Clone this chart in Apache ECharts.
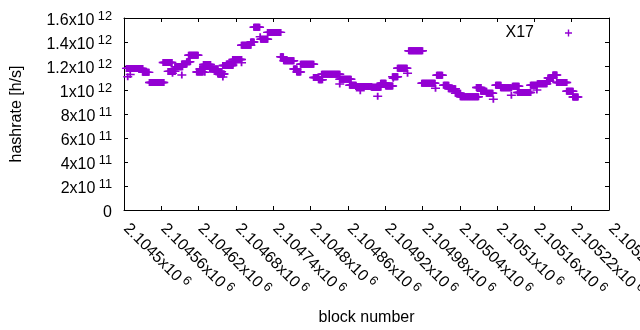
<!DOCTYPE html>
<html>
<head>
<meta charset="utf-8">
<script src="https://cdn.jsdelivr.net/npm/echarts@6/dist/echarts.min.js"></script>
<style>
  html, body { margin: 0; padding: 0; background: #fff; }
  #main { width: 640px; height: 330px; }
</style>
</head>
<body>
<div id="main"></div>
<script>
// runs of blocks that share one hashrate value: [first block, last block, hashrate]
const plateaus = [
  [2104504, 2104530, 1.18e12],
  [2104530, 2104540, 1.147e12],
  [2104541, 2104564, 1.0625e12],
  [2104563, 2104577, 1.229e12],
  [2104571, 2104582, 1.155e12],
  [2104582, 2104594, 1.194e12],
  [2104593, 2104601, 1.217e12],
  [2104601, 2104606, 1.236e12],
  [2104604, 2104619, 1.289e12],
  [2104617, 2104627, 1.15e12],
  [2104622, 2104627, 1.175e12],
  [2104628, 2104639, 1.2125e12],
  [2104638, 2104651, 1.175e12],
  [2104648, 2104657, 1.152e12],
  [2104651, 2104661, 1.133e12],
  [2104659, 2104675, 1.204e12],
  [2104665, 2104675, 1.217e12],
  [2104675, 2104689, 1.254e12],
  [2104689, 2104704, 1.3725e12],
  [2104704, 2104709, 1.4e12],
  [2104709, 2104718, 1.5225e12],
  [2104720, 2104731, 1.4225e12],
  [2104731, 2104752, 1.48e12],
  [2104752, 2104756, 1.2775e12],
  [2104757, 2104773, 1.244e12],
  [2104773, 2104778, 1.175e12],
  [2104778, 2104784, 1.15e12],
  [2104784, 2104805, 1.214e12],
  [2104805, 2104813, 1.104e12],
  [2104813, 2104819, 1.086e12],
  [2104818, 2104847, 1.131e12],
  [2104847, 2104865, 1.089e12],
  [2104863, 2104873, 1.039e12],
  [2104873, 2104898, 1.03e12],
  [2104898, 2104913, 1.0225e12],
  [2104913, 2104921, 1.056e12],
  [2104921, 2104932, 1.033e12],
  [2104932, 2104940, 1.111e12],
  [2104940, 2104955, 1.181e12],
  [2104958, 2104980, 1.3275e12],
  [2104979, 2105000, 1.056e12],
  [2105003, 2105012, 1.1225e12],
  [2105014, 2105022, 1.039e12],
  [2105022, 2105033, 1.011e12],
  [2105033, 2105041, 0.9725e12],
  [2105041, 2105070, 0.944e12],
  [2105067, 2105074, 1.021e12],
  [2105074, 2105083, 0.99e12],
  [2105083, 2105093, 0.9725e12],
  [2105098, 2105106, 1.039e12],
  [2105106, 2105123, 1.019e12],
  [2105125, 2105135, 1.031e12],
  [2105133, 2105154, 0.979e12],
  [2105154, 2105164, 1.04e12],
  [2105165, 2105180, 1.0525e12],
  [2105180, 2105185, 1.075e12],
  [2105182, 2105190, 1.1e12],
  [2105190, 2105196, 1.125e12],
  [2105196, 2105212, 1.0625e12],
  [2105212, 2105222, 0.99e12],
  [2105222, 2105230, 0.942e12]
];
// lone blocks off the plateaus: [block, hashrate]
const singles = [
  [2104506, 1.111e12], [2104510, 1.129e12], [2104578, 1.139e12],
  [2104593, 1.125e12], [2104630, 1.148e12], [2104659, 1.108e12],
  [2104689, 1.2275e12], [2104719, 1.444e12], [2104847, 1.05e12],
  [2104880, 0.994e12], [2104908, 0.9475e12], [2104933, 1.097e12],
  [2104956, 1.139e12], [2105001, 1.014e12], [2105094, 0.9225e12],
  [2105123, 0.956e12], [2105164, 1.0e12]
];
const xTickLabels = ['2.1045x10^6', '2.10456x10^6', '2.10462x10^6', '2.10468x10^6',
  '2.10474x10^6', '2.1048x10^6', '2.10486x10^6', '2.10492x10^6', '2.10498x10^6',
  '2.10504x10^6', '2.1051x10^6', '2.10516x10^6', '2.10522x10^6', '2.10528x10^6'];
const yTickLabels = ['0', '2x10^11', '4x10^11', '6x10^11', '8x10^11',
  '1x10^12', '1.2x10^12', '1.4x10^12', '1.6x10^12'];
const seriesName = 'X17';

const X_MIN = 2104500, X_MAX = 2105280, X_STEP = 60;
const Y_MIN = 0, Y_MAX = 1.6e12, Y_STEP = 2e11;

// one point per block inside each plateau
const points = [];
plateaus.forEach(function (p) {
  for (let b = p[0]; b <= p[1]; b++) points.push([b, p[2]]);
});
singles.forEach(function (s) { points.push(s); });

function sci(label) {
  const parts = label.split('^');
  if (parts.length < 2) return '{m|' + parts[0] + '}';
  return '{m|' + parts[0] + '} {e|' + parts[1] + '}';
}
const labelRich = {
  m: { fontSize: 16, fontFamily: 'Liberation Sans', color: '#000' },
  e: { fontSize: 12.8, fontFamily: 'Liberation Sans', color: '#000', padding: [0, 0, 8, 0] }
};

const plus = 'path://M0,3.2H3.2V0H4.8V3.2H8V4.8H4.8V8H3.2V4.8H0Z';
const purple = '#9400d3';
const font = 'Liberation Sans';

const chart = echarts.init(document.getElementById('main'), null, { renderer: 'canvas' });
const option = {
  animation: false,
  backgroundColor: '#fff',
  textStyle: { fontFamily: font },
  grid: { left: 124, right: 31, top: 18, bottom: 120, containLabel: false, outerBoundsMode: 'none' },
  legend: {
    data: [{ name: seriesName, icon: plus }],
    right: 68,
    top: 25,
    padding: 0,
    align: 'right',
    itemWidth: 9,
    itemHeight: 7,
    textStyle: { fontSize: 16, fontFamily: font, color: '#000', padding: [0, 25, 0, 0] }
  },
  xAxis: [{
    type: 'value',
    min: X_MIN, max: X_MAX, interval: X_STEP,
    name: 'block number',
    nameLocation: 'middle',
    nameGap: 100,
    nameTextStyle: { fontSize: 16, fontFamily: font, color: '#000' },
    splitLine: { show: false },
    axisLine: { show: true, onZero: false, lineStyle: { color: '#000', width: 1 } },
    axisTick: { show: true, inside: true, length: 4, lineStyle: { color: '#000' } },
    axisLabel: {
      rotate: -45, margin: 14, showMinLabel: true, showMaxLabel: true,
      padding: [0, 0, 0, 3],
      formatter: function (v) {
        return sci(xTickLabels[Math.round((v - X_MIN) / X_STEP)] || '');
      },
      rich: labelRich
    }
  }, {
    type: 'value', position: 'top',
    min: X_MIN, max: X_MAX, interval: X_STEP,
    splitLine: { show: false },
    axisLine: { show: true, onZero: false, lineStyle: { color: '#000', width: 1 } },
    axisTick: { show: true, inside: true, length: 4, lineStyle: { color: '#000' } },
    axisLabel: { show: false }
  }],
  yAxis: [{
    type: 'value',
    min: Y_MIN, max: Y_MAX, interval: Y_STEP,
    name: 'hashrate [h/s]',
    nameLocation: 'middle',
    nameGap: 99,
    nameTextStyle: { fontSize: 16, fontFamily: font, color: '#000' },
    splitLine: { show: false },
    axisLine: { show: true, onZero: false, lineStyle: { color: '#000', width: 1 } },
    axisTick: { show: true, inside: true, length: 4, lineStyle: { color: '#000' } },
    axisLabel: {
      margin: 12, showMinLabel: true, showMaxLabel: true,
      padding: [5, 0, 0, 0],
      formatter: function (v) {
        return sci(yTickLabels[Math.round((v - Y_MIN) / Y_STEP)] || '');
      },
      rich: labelRich
    }
  }, {
    type: 'value', position: 'right',
    min: Y_MIN, max: Y_MAX, interval: Y_STEP,
    splitLine: { show: false },
    axisLine: { show: true, onZero: false, lineStyle: { color: '#000', width: 1 } },
    axisTick: { show: true, inside: true, length: 4, lineStyle: { color: '#000' } },
    axisLabel: { show: false }
  }],
  series: [{
    name: seriesName,
    type: 'scatter',
    symbol: plus,
    symbolSize: [9, 7],
    itemStyle: { color: purple, opacity: 1 },
    emphasis: { disabled: true },
    data: points
  }]
};
chart.setOption(option);
</script>
</body>
</html>
